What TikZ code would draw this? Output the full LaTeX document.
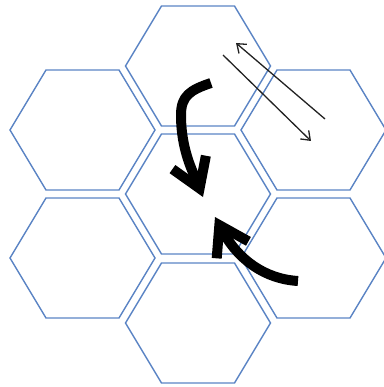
\documentclass[tikz,border=0pt]{standalone}
\usetikzlibrary{arrows.meta}
\definecolor{hexblue}{HTML}{5B84C4}
\definecolor{swapgray}{HTML}{222222}

\begin{document}
\begin{tikzpicture}[x=1pt, y=-1pt,
  hexline/.style={draw=hexblue, line width=1.4pt, line join=miter},
  thinarrow/.style={draw=swapgray, line width=1.3pt, -{Straight Barb[length=8pt, width=12pt]}},
  bigarrow/.style={draw=black, line width=10pt, -{Straight Barb[length=28pt, width=36pt]}}]

% Canvas
\useasboundingbox (0,0) rectangle (383,387);

% Hexagon centres
\coordinate (hexT)  at (198,66);
\coordinate (hexUL) at (82.5,130);
\coordinate (hexUR) at (313.5,130);
\coordinate (hexC)  at (198,194);
\coordinate (hexLL) at (82.5,258);
\coordinate (hexLR) at (313.5,258);
\coordinate (hexB)  at (198,323);

% Hexagons
\foreach \hex in {hexT,hexUL,hexUR,hexC,hexLL,hexLR,hexB} {
  \draw[hexline] (\hex) ++(-72.5,0) -- ++(36,-60) -- ++(73,0) -- ++(36,60)
    -- ++(-36,60) -- ++(-73,0) -- cycle;
}

% Thin swap arrows
\coordinate (swapA) at (223,55);
\coordinate (swapB) at (311,141);
\coordinate (swapC) at (325,119);
\coordinate (swapD) at (236,43);
\draw[thinarrow] (swapA) -- (swapB);
\draw[thinarrow] (swapC) -- (swapD);

% Thick arrows into the centre
\coordinate (inA)  at (211,83);
\coordinate (inB)  at (203,197);
\coordinate (outA) at (298,281);
\coordinate (outB) at (215,217);
\draw[bigarrow] (inA) .. controls (190,90) and (181,96) .. (181,115)
  .. controls (181,150) and (193,172) .. (inB);
\draw[bigarrow] (outA) .. controls (265,279) and (238,260) .. (outB);

\end{tikzpicture}
\end{document}
